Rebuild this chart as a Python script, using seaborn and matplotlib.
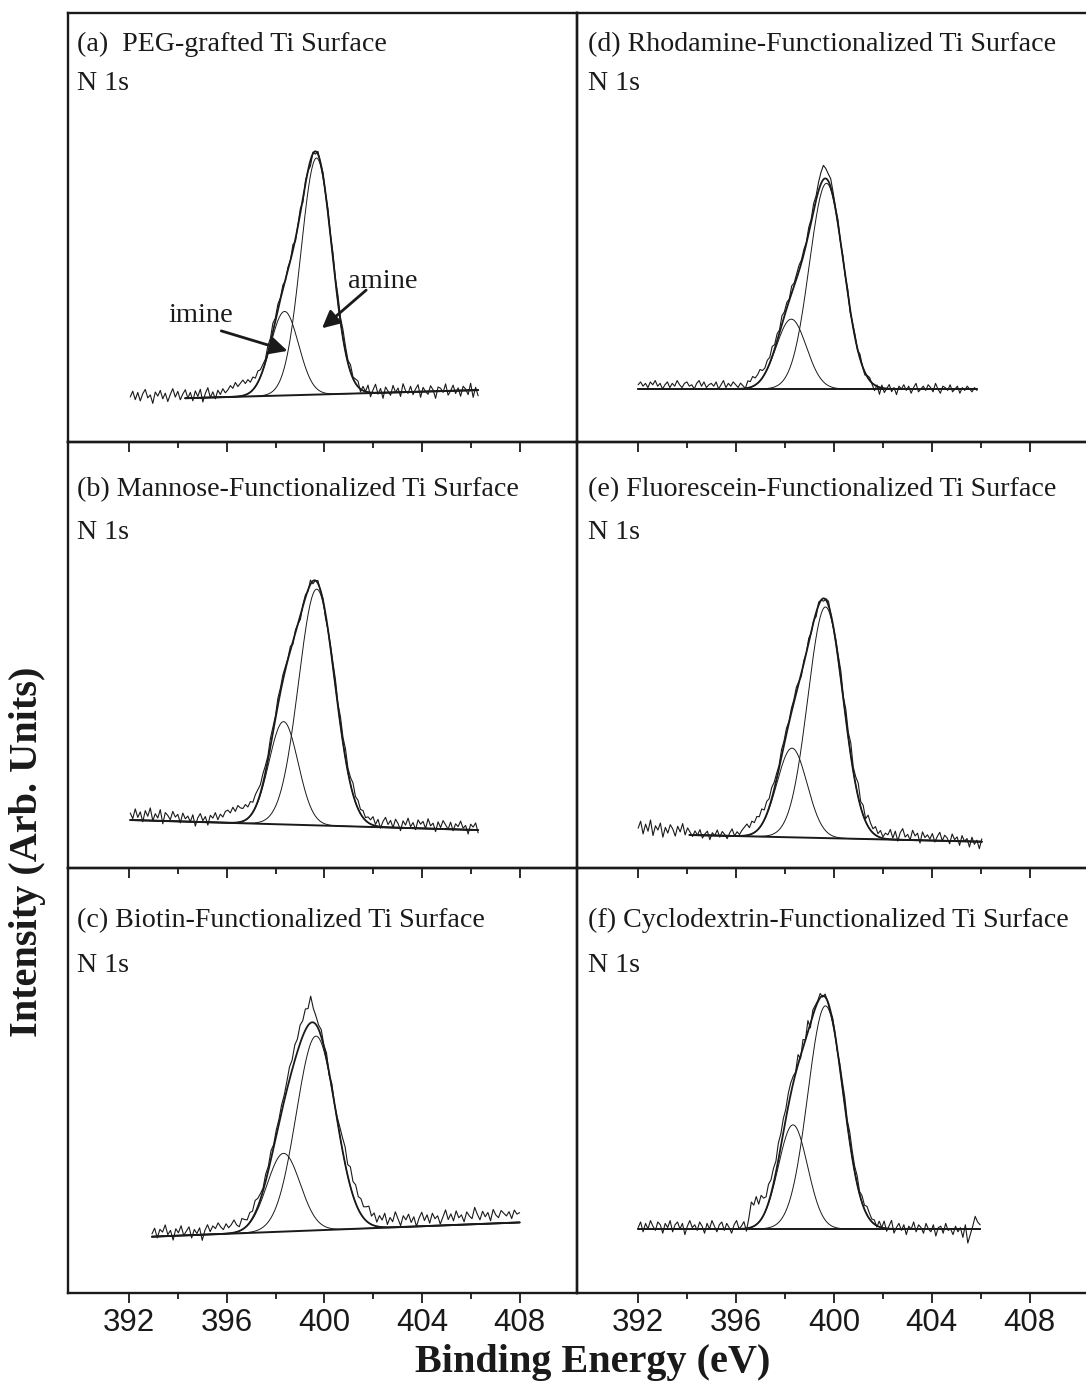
import numpy as np
import pandas as pd
import matplotlib
matplotlib.use("Agg")
import matplotlib.pyplot as plt
import seaborn as sns
from matplotlib.ticker import FixedLocator

sns.set_theme(style="white")
plt.rcParams["font.family"] = ["Liberation Serif", "DejaVu Serif"]
plt.rcParams["text.color"] = "k"
plt.rcParams["xtick.color"] = "k"
plt.rcParams["xtick.labelcolor"] = "k"

# panels in order a, b, c (left column) then d, e, f (right column)
panel_titles = ["(a)  PEG-grafted Ti Surface",
                "(b) Mannose-Functionalized Ti Surface",
                "(c) Biotin-Functionalized Ti Surface",
                "(d) Rhodamine-Functionalized Ti Surface",
                "(e) Fluorescein-Functionalized Ti Surface",
                "(f) Cyclodextrin-Functionalized Ti Surface"]
raw_start = [392.05, 392.05, 392.94, 392.0, 392.0, 392.0]
raw_end = [406.3, 406.3, 408.0, 405.85, 406.05, 405.98]
base_start = [394.3, 392.05, 392.94, 392.0, 394.1, 392.0]
base_y0 = [10.1, 11.25, 13.25, 12.25, 7.74, 15.06]
base_y1 = [12.0, 8.9, 16.6, 12.25, 6.17, 15.06]
amine_pos = [399.68, 399.69, 399.66, 399.70, 399.66, 399.66]
amine_height = [55.2, 55.4, 45.7, 48.0, 54.2, 52.5]
amine_fwhm = [1.5, 1.75, 1.9, 1.65, 1.7, 1.7]
imine_pos = [398.37, 398.33, 398.33, 398.26, 398.29, 398.33]
imine_height = [19.6, 24.1, 18.4, 16.3, 20.9, 24.5]
imine_fwhm = [1.35, 1.4, 1.6, 1.45, 1.45, 1.4]

# raw spectrum minus fitted envelope, in small steps
resid_a = [2, 6, 0, 5, -1, 4, 7, 1, 3, -3, 5, 2, 6, 0, 4, -2, 3, 7, 1, 5, -1, 3, 6,
           0, 4, -2, 5, 1, 6, -3, 3, 7, 0, 4, -1, 5, 2, 6, 3,
           5, 8, 6, 10, 7, 9, 11, 8, 10, 7, 9, 6, 8, 5,
           4, 2, 5, 3, 6, 2, 4, 1,
           3, -1, 2, 0, 4, -2, 1, 3, -3, 2, 0, -4, 1, -2, 2,
           -1, 2, 0, 3, 1, 4, 2, 5, 3, 6, 4, 2, 5, 1, 3,
           4, -2, 3, 0, 5, -3, 2, 6, -1, 3, -4, 4, 1, -2, 5, 0, 3, -3, 6, 1, -1, 4, -2, 2, 5,
           -4, 3, 0, -2, 4, 1, -5, 3, 2, -1, 5, -3, 0, 4, -2, 2, -4, 3, 1, -3, 5, -5, 2, -4]
resid_b = [5, 1, 8, 2, 6, -1, 7, 3, 9, 0, 5, 2, 8, -2, 6, 4, 1, 7, 3, 5, -1, 6, 2, 4, 0,
           5, -3, 3, 6, 1, 4, -2, 5, 3, 7, 2, 6, 4, 8,
           9, 7, 11, 8, 12, 10, 9, 11, 8, 10, 7, 9, 8, 6, 7,
           5, 3, 6, 4, 2, 5, 3, 4, 2,
           1, 3, -2, 2, 0, -3, 1, 2, -1, 3, -2, 0, 2, -1, 1, -3, 0, 2,
           3, 5, 2, 6, 4, 7, 3, 5, 8, 4, 6, 3, 5, 2, 4,
           3, 6, 1, 5, -1, 4, 7, 2, 5, 0, 6, 3, -2, 5, 2, 7, 1, 4, -1, 6, 3, 5,
           0, 7, 2, 4, -2, 5, 1, 6, 3, 0, 5, -1, 4, 2, 6, 1, 3, -3, 4, 2, 5, -2]
resid_c = [2, 6, -1, 5, 3, 8, 1, 4, -3, 5, 2, 7, 0, 3, 6, -2, 4, 1, 5, -4, 3, 7, 2, 6, 4, 8,
           5, 3, 7, 4, 6, 9, 5, 3, 8, 6, 4, 7, 5, 9, 6,
           4, 2, 5, 3, 6, 2, 4, 3, 5, 4,
           6, 9, 7, 11, 9, 13, 11, 15, 12, 19,
           10, 6, 3, 5, 1, 4, -2, 3, 0, 2,
           6, 9, 12, 8, 14, 10, 13, 9, 11, 8, 10, 12,
           6, 9, 3, 8, 5, 10, 2, 7, 4, 11, 6, 1, 8, 5, 9, 3, 7, 0, 6, 10, 4, 8, 2, 9, 5, 7, 1, 6,
           11, 4, 8, 3, 10, 5, 7, 2, 9, 6, 4, 12, 7, 3, 9, 5, 8, 2, 10, 6, 4, 9, 7, 5, 8, 3, 9, 6, 7]
resid_d = [3, 5, 2, 4, 1, 5, 3, 6, 2, 4, 0, 3, 5, 1, 4, 2, 6, 3, 1, 4,
           5, 2, 3, 0, 4, 6, 2, 5, 1, 3, 4, 2, 5, 0, 3, 6, 1, 4, 2, 5,
           3, 1, 4, 2, 0, 5,
           4, 7, 5, 6, 8, 5, 4,
           6, 4, 7, 3, 5, 2, 6, 3, 4, 1, 5, 2, 3, 4,
           2, 3, 1, 4, 2, 5, 3, 6, 8, 10, 7, 5, 6, 3,
           1, 3, -1, 2, 0, 3, -2, 1, 2, -1, 3, 0, -2, 1, 2,
           -1, -4, 1, -5, 2, -3, 0, 3, -2, 1, -4, 2, 0, 3, -1, 2, -3, 1, 4, -2, 0, 2,
           -1, 3, 1, -2, 4, 0, -3, 2, 1, -1, 3, -2, 0, 2, -3, 1, -1, 2, 0, -2, 1, -1]
resid_e = [4, 9, 0, 7, 2, 10, -1, 6, 3, 8, -2, 5, 1, 7, 4, -1, 6, 2, 8, 0, 5,
           2, -1, 3, 0, 4, -2, 1, 3, -3, 2, 0, 4, -1, 3, 1, -2, 2, 5, 0, 3, 1, 4,
           6, 8, 5, 9, 7, 10, 8, 11, 7, 9, 6, 8, 5,
           4, 2, 5, 3, 4, 1, 3, 2, 4,
           1, -2, 2, 0, 3, -1, 1, -3, 2, 0, -2, 1, 3, -1, 0, 2,
           3, 6, 2, 7, 4, 9, 3, 6, 10, 4, 7, 2, 8, 5, 3, 6, 2, 5, 1, 4,
           3, 7, 1, 6, -1, 5, 8, 2, 4, 0, 7, 3, 5, -2, 6, 2, 4, 1, 5, -1,
           3, 6, 0, 4, 2, -2, 5, 1, 3, -3, 4, 0, 2, -4, 3, -2, 1, -5, 2]
resid_f = [1, 5, -2, 4, 0, 6, 2, -1, 5, 3, -3, 4, 1, 6, -2, 3, 5, 0, 4, -4, 2, 6, 1,
           3, -1, 5, 2, -3, 4, 0, 6, 2, -2, 3, 5, -1, 4, 1, -3, 3, 6, 0, 2, 5, -2, 7,
           18, 15, 20, 13, 17,
           12, 9, 13, 10, 11, 8, 12, 9, 10, 7, 9, 8,
           5, 1, 7, -2, 6, 0, 8, -3, 4, 2,
           1, 3, -1, 2, 0, -2, 2, 1, -1, 3,
           4, 6, 3, 7, 5, 4, 6, 2, 5, 3, 6, 4, 2,
           3, -1, 4, 0, 5, -2, 2, 6, -3, 1, 4, -1, 3, -4, 2, 0, 5, -2, 3, 1, -3, 4,
           0, -2, 3, -5, 1, 2, -3, 4, -1, 0, -4, 2, -2, 1, -6, 3, -10, -4, 2, 9, 5, 3]
residuals = [resid_a, resid_b, resid_c, resid_d, resid_e, resid_f]
resid_unit = 0.33

major_ticks = [392, 396, 400, 404, 408]
minor_ticks = [394, 398, 402, 406]


def gauss(x, c, h, w):
    return h * np.exp(-4 * np.log(2) * (x - c) ** 2 / w ** 2)


W, H = 1086, 1381
fig = plt.figure(figsize=(W / 100, H / 100), dpi=100)

col_left = [68, 577]
col_width = [509, 510]
row_top = [13, 441.5, 868]
row_bot = [441.5, 868, 1293]
title_off = [38, 54.5, 59]
n1s_off = [77, 97.5, 104]

axes = []
for i in range(6):
    col, row = i // 3, i % 3
    ax = fig.add_axes([col_left[col] / W, 1 - row_bot[row] / H,
                       col_width[col] / W, (row_bot[row] - row_top[row]) / H])
    ax.set_facecolor("none")
    axes.append(ax)

    bx0, bx1 = base_start[i], raw_end[i]
    slope = (base_y1[i] - base_y0[i]) / (bx1 - bx0)

    def baseline(x):
        return base_y0[i] + slope * (x - bx0)

    xr = np.linspace(raw_start[i], raw_end[i], len(residuals[i]))
    yr = (baseline(xr) + gauss(xr, amine_pos[i], amine_height[i], amine_fwhm[i])
          + gauss(xr, imine_pos[i], imine_height[i], imine_fwhm[i])
          + resid_unit * np.array(residuals[i]))
    xf = np.linspace(bx0, bx1, 400)
    g1 = gauss(xf, amine_pos[i], amine_height[i], amine_fwhm[i])
    g2 = gauss(xf, imine_pos[i], imine_height[i], imine_fwhm[i])
    fit = pd.DataFrame({"E": xf, "base": baseline(xf), "amine": baseline(xf) + g1,
                        "imine": baseline(xf) + g2, "env": baseline(xf) + g1 + g2})

    sns.lineplot(x=xr, y=yr, ax=ax, color="k", lw=0.8, estimator=None, sort=False)
    sns.lineplot(data=fit, x="E", y="amine", ax=ax, color="k", lw=0.7, estimator=None)
    sns.lineplot(data=fit, x="E", y="imine", ax=ax, color="k", lw=0.7, estimator=None)
    sns.lineplot(data=fit, x="E", y="env", ax=ax, color="k", lw=1.3, estimator=None)
    sns.lineplot(data=fit, x="E", y="base", ax=ax, color="k", lw=1.4, estimator=None)

    ax.set_xlim(389.5, 410.35)
    ax.set_ylim(0, 100)
    ax.set_xlabel("")
    ax.set_ylabel("")
    ax.set_yticks([])
    ax.set_xticks(major_ticks)
    ax.xaxis.set_minor_locator(FixedLocator(minor_ticks))
    ax.tick_params(axis="x", which="major", direction="out", length=7, width=1.3,
                   bottom=True, top=False, labelsize=22.5, pad=4, color="k",
                   labelcolor="k", labelbottom=(row == 2))
    ax.tick_params(axis="x", which="minor", direction="out", length=4, width=1.3,
                   bottom=True, top=False, color="k")
    for lab in ax.get_xticklabels():
        lab.set_fontfamily(["Liberation Sans", "DejaVu Sans"])
    for sp in ax.spines.values():
        sp.set_color("k")
        sp.set_linewidth(1.7)
    if col == 1:
        ax.spines["right"].set_visible(False)

    h = row_bot[row] - row_top[row]
    tx = 9 / 509 if col == 0 else 11.5 / 510
    ax.text(tx, 1 - title_off[row] / h, panel_titles[i], transform=ax.transAxes,
            fontsize=20.2, va="baseline", ha="left", color="k")
    ax.text(tx, 1 - n1s_off[row] / h, "N 1s", transform=ax.transAxes,
            fontsize=20.2, va="baseline", ha="left", color="k")

ax = axes[0]
ax.text(393.6, 27.96, "imine", fontsize=20.5, va="baseline", ha="left", color="k")
ax.text(400.95, 35.8, "amine", fontsize=20.5, va="baseline", ha="left", color="k")
ax.annotate("", xy=(398.60, 20.96), xytext=(395.67, 26.0),
            arrowprops=dict(arrowstyle="-|>", color="k", lw=2.0, mutation_scale=26))
ax.annotate("", xy=(399.82, 26.0), xytext=(401.80, 35.75),
            arrowprops=dict(arrowstyle="-|>", color="k", lw=2.0, mutation_scale=26))

fig.text(28 / W, 1 - 852 / H, "Intensity (Arb. Units)", rotation=90, fontsize=29,
         fontweight="bold", ha="center", va="center", color="k")
fig.text(593 / W, 1 - 1372 / H, "Binding Energy (eV)", fontsize=29,
         fontweight="bold", ha="center", va="baseline", color="k")

fig.savefig("out.png", dpi=100)
